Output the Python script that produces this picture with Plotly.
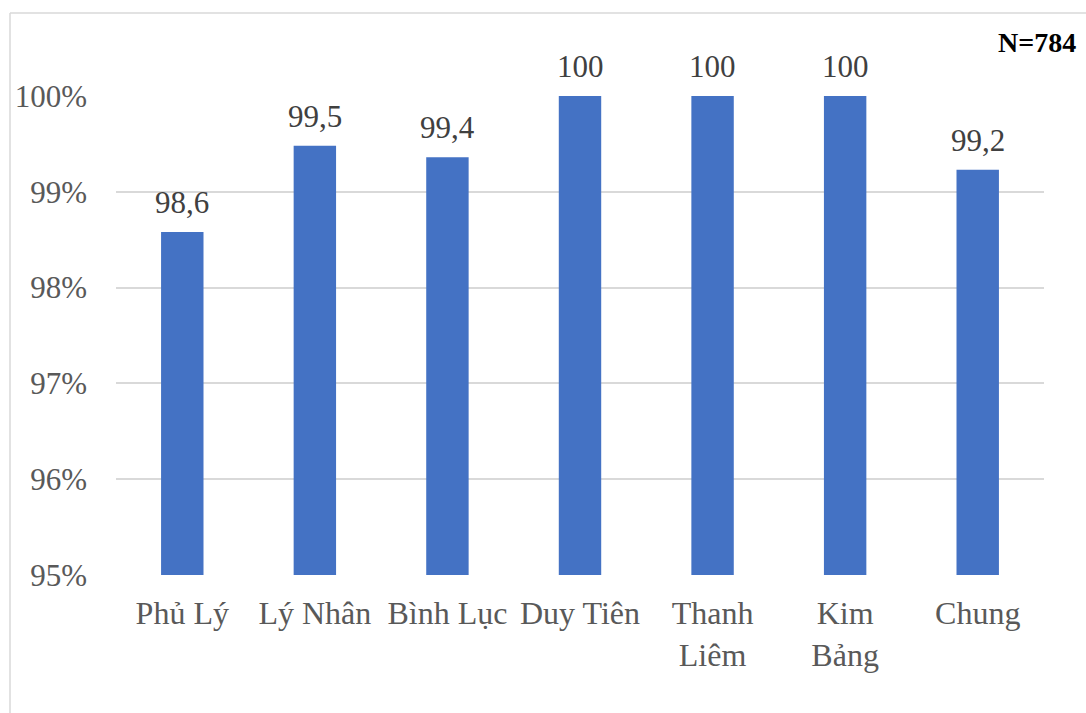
import plotly.graph_objects as go

# District names (x-axis) and coverage rates in percent
districts = ["Phủ Lý", "Lý Nhân", "Bình Lục", "Duy Tiên", "Thanh<br>Liêm", "Kim<br>Bảng", "Chung"]
rates = [98.58, 99.48, 99.36, 100.0, 100.0, 100.0, 99.23]
y_ticks = [95, 96, 97, 98, 99, 100]
y_tick_labels = ["95%", "96%", "97%", "98%", "99%", "100%"]
sample_note = "N=784"


def fmt(v):
    s = f"{v:.1f}".replace(".", ",")
    return s[:-2] if s.endswith(",0") else s


W, H = 1086, 713
ML, MR, MT, MB = 116, 42, 96, 138
FONT = "Times New Roman, Liberation Serif, serif"

fig = go.Figure(
    go.Bar(
        x=districts,
        y=rates,
        marker=dict(color="#4472C4", line=dict(width=0)),
        width=0.32,
        hoverinfo="x+y",
    )
)

# value labels above each bar
for d, v in zip(districts, rates):
    fig.add_annotation(
        x=d, y=v, text=fmt(v), showarrow=False,
        xanchor="center", yanchor="bottom", yshift=10,
        font=dict(family=FONT, size=31, color="#404040"),
    )

pw = W - ML - MR
ph = H - MT - MB
# outer frame: left and top edges of the chart area
fx = (10 - ML) / pw
fy = 1 + (MT - 13) / ph
fig.add_shape(type="line", xref="paper", yref="paper", x0=fx, x1=fx, y0=fy, y1=-MB / ph - 0.01,
              line=dict(color="#d9d9d9", width=1.5))
fig.add_shape(type="line", xref="paper", yref="paper", x0=fx, x1=1 + MR / pw + 0.01, y0=fy, y1=fy,
              line=dict(color="#d9d9d9", width=1.5))

fig.add_annotation(
    text=f"<b>{sample_note}</b>", xref="paper", yref="paper",
    x=1 + (1078 - ML - pw) / pw, y=1 + (MT - 42) / ph,
    xanchor="right", yanchor="middle", showarrow=False,
    font=dict(family=FONT, size=28, color="#000000"),
)

fig.update_layout(
    width=W, height=H,
    margin=dict(l=ML, r=MR, t=MT, b=MB),
    paper_bgcolor="white", plot_bgcolor="white",
    showlegend=False,
    font=dict(family=FONT, size=32, color="#595959"),
    xaxis=dict(
        showgrid=False, showline=False, ticks="",
        tickfont=dict(family=FONT, size=32, color="#595959"),
        ticklabelstandoff=16,
    ),
    yaxis=dict(
        range=[95, 100],
        tickvals=y_ticks, ticktext=y_tick_labels,
        showgrid=True, gridcolor="#d9d9d9", gridwidth=1.5,
        zeroline=False, showline=False, ticks="",
        tickfont=dict(family=FONT, size=31, color="#595959"),
        ticklabelstandoff=28,
    ),
)

fig.write_html("out.html")
